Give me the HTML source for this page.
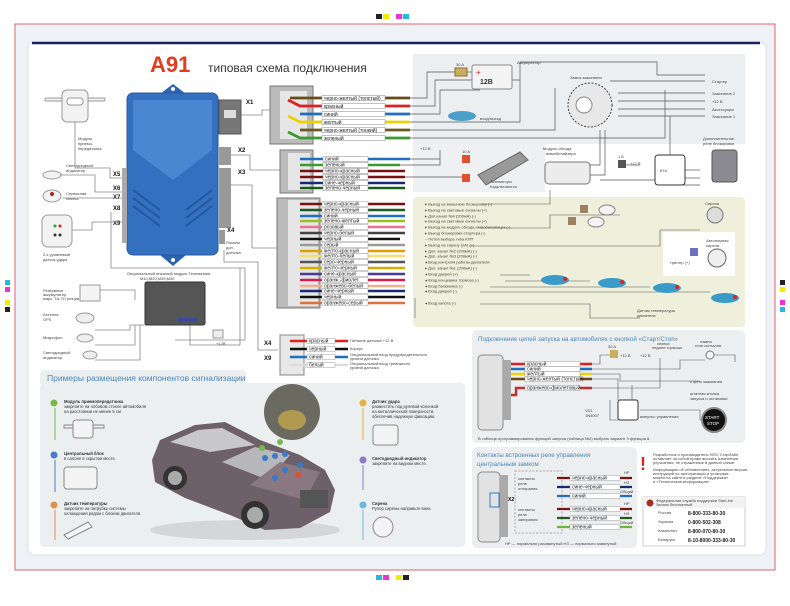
<!DOCTYPE html>
<html><head><meta charset="utf-8"><style>
html,body{margin:0;padding:0;background:#fff;}
svg{display:block;font-family:"Liberation Sans","Noto Sans CJK SC",sans-serif;}
.t{font-size:5px;fill:#333;}
.s{font-size:4px;fill:#444;}
.lb{font-size:5px;fill:#222;}
</style></head><body>
<svg width="790" height="606" viewBox="0 0 790 606" xmlns="http://www.w3.org/2000/svg">
<rect width="790" height="606" fill="#fff"/>
<rect x="15" y="24" width="760" height="546" fill="#eef1f6" stroke="#d66" stroke-width="1"/>
<g font-size="5">
<rect x="376" y="14" width="6" height="5" fill="#222"/><rect x="383" y="14" width="6" height="5" fill="#ee0"/><rect x="396" y="14" width="6" height="5" fill="#e3c"/><rect x="403" y="14" width="6" height="5" fill="#2bd"/>
<rect x="376" y="575" width="6" height="5" fill="#2bd"/><rect x="383" y="575" width="6" height="5" fill="#e3c"/><rect x="396" y="575" width="6" height="5" fill="#ee0"/><rect x="403" y="575" width="6" height="5" fill="#222"/>
<rect x="5" y="280" width="5" height="5" fill="#2bd"/><rect x="5" y="287" width="5" height="5" fill="#e3c"/><rect x="5" y="300" width="5" height="5" fill="#ee0"/><rect x="5" y="307" width="5" height="5" fill="#222"/>
<rect x="780" y="280" width="5" height="5" fill="#222"/><rect x="780" y="287" width="5" height="5" fill="#ee0"/><rect x="780" y="300" width="5" height="5" fill="#e3c"/><rect x="780" y="307" width="5" height="5" fill="#2bd"/>
</g>
<rect x="28" y="42" width="738" height="513" rx="6" fill="#fff" stroke="#dde" stroke-width="1"/>
<path d="M32 43 H760" stroke="#1c2060" stroke-width="2.5"/>
<text x="150" y="72" font-size="22" font-weight="bold" fill="#e23c1c">A91</text>
<text x="208" y="72" font-size="12" fill="#333">типовая схема подключения</text>

<rect x="413" y="54" width="332" height="90" fill="#eceef0"/>
<rect x="413" y="144" width="132" height="48" fill="#eef0f2"/>
<rect x="413" y="197" width="332" height="130" rx="4" fill="#eef0dc"/>
<rect x="663" y="232" width="72" height="44" fill="#fff"/>

<path d="M160 94 L173 84 L186 94 Z" fill="#2a63b0"/>
<path d="M160 255 L173 266 L186 255 Z" fill="#2a63b0"/>
<rect x="127" y="93" width="91" height="162" rx="6" fill="#3470c0" stroke="#2a5aa0"/>
<path d="M133 100 H212 V150 L173 180 L133 150 Z" fill="#4a86d2"/>
<g stroke="#2556a0" stroke-width="2" fill="none">
<path d="M133 190 L160 210"/><path d="M133 198 L160 218"/><path d="M133 206 L160 226"/>
<path d="M212 190 L186 210"/><path d="M212 198 L186 218"/><path d="M212 206 L186 226"/>
</g>
<circle cx="173" cy="89" r="2" fill="#fff"/><circle cx="173" cy="260" r="2" fill="#fff"/>
<rect x="219" y="100" width="22" height="34" fill="#777" stroke="#555"/>
<rect x="224" y="110" width="12" height="8" fill="#ddd"/>
<rect x="219" y="147" width="12" height="18" fill="#999"/>
<rect x="219" y="168" width="12" height="60" fill="#999"/>
<rect x="219" y="230" width="6" height="14" fill="#999"/>
<rect x="122" y="168" width="5" height="75" fill="#aaa"/>
<g font-size="6" font-weight="bold" fill="#111">
<text x="246" y="104">X1</text><text x="238" y="152">X2</text><text x="238" y="174">X3</text><text x="227" y="232">X4</text>
<text x="113" y="176">X5</text><text x="113" y="190">X6</text><text x="113" y="199">X7</text><text x="113" y="210">X8</text><text x="113" y="225">X9</text>
<text x="264" y="345">X4</text><text x="264" y="360">X9</text>
</g>
<text x="226" y="244" class="s">Разъем</text><text x="226" y="249" class="s">доп.</text><text x="226" y="254" class="s">датчика</text>

<g fill="#f2f2f2" stroke="#999">
<rect x="45" y="98" width="60" height="3" rx="1"/>
<rect x="62" y="90" width="26" height="32" rx="5"/>
<rect x="67" y="98" width="16" height="7" rx="3" fill="#fff"/>
<ellipse cx="52" cy="175" rx="9" ry="4"/>
<ellipse cx="52" cy="196" rx="9" ry="6"/>
<rect x="42" y="215" width="30" height="32" rx="6"/>
</g>
<circle cx="52" cy="194" r="2" fill="#a22"/>
<circle cx="55" cy="226" r="1.5" fill="#2a2"/><circle cx="60" cy="226" r="1.5" fill="#c22"/>
<circle cx="55" cy="235" r="1.5" fill="#333"/><circle cx="60" cy="235" r="1.5" fill="#333"/>
<g class="s">
<text x="78" y="140">Модуль</text><text x="78" y="145">приемо-</text><text x="78" y="150">передатчика</text>
<text x="66" y="167">Светодиодный</text><text x="66" y="172">индикатор</text>
<text x="66" y="195">Сервисная</text><text x="66" y="200">кнопка</text>
<text x="43" y="256">2-х уровневый</text><text x="43" y="261">датчик удара</text>
<text x="127" y="275">Опциональный внешний модуль Телематики</text><text x="140" y="280">M10,M20,M30,M30</text>
<text x="43" y="292">Резервные</text><text x="43" y="296">аккумулятор</text><text x="43" y="300">марк. ТА-7Н (опции)</text>
<text x="43" y="316">Антенна</text><text x="43" y="321">GPS</text>
<text x="43" y="339">Микрофон</text>
<text x="43" y="354">Светодиодный</text><text x="43" y="359">индикатор</text>
</g>
<g stroke="#888" fill="none" stroke-width="0.8">
<path d="M75 122 V168 H110 V178 H122"/>
<path d="M60 175 H95 V192 H122"/>
<path d="M62 198 H122"/>
<path d="M72 230 H92 V222 H122"/>
<path d="M111 212 V268 H245 V340 H175"/>
<path d="M241 115 H262 V110 H270"/>
<path d="M231 155 H250 V170 H280"/>
<path d="M231 185 H252 V248 H278"/>
<path d="M224 250 V262 H258 V350 H278"/>
<path d="M95 330 H130 V325 H160"/><path d="M95 345 H135 V325"/><path d="M95 360 H140 V325"/><path d="M88 290 H135 V300"/>
<path d="M190 325 V345 H240 V268"/>
</g>
<rect x="80" y="285" width="20" height="16" fill="#f4f4f4" stroke="#999"/>
<rect x="145" y="282" width="60" height="43" rx="2" fill="#555" stroke="#333"/>
<rect x="178" y="318" width="20" height="4" fill="#3a4aa0"/>
<ellipse cx="85" cy="318" rx="9" ry="5" fill="#eee" stroke="#999"/>
<ellipse cx="85" cy="338" rx="8" ry="4" fill="#eee" stroke="#999"/>
<ellipse cx="90" cy="355" rx="7" ry="4" fill="#eee" stroke="#999"/>
<rect x="213" y="330" width="10" height="8" fill="#eee" stroke="#999"/>
<text x="216" y="345" class="s">+12В</text>

<rect x="270" y="86" width="43" height="58" fill="#bbb" stroke="#777"/>
<rect x="280" y="91" width="27" height="48" fill="#e6e6e6"/>
<g stroke-width="2.8" fill="none">
<path d="M290 98 H322 M385 98 H410" stroke="#6b4a1a"/>
<path d="M288 100 L300 106 H322 M385 106 H410" stroke="#e02020"/>
<path d="M300 114 H322 M385 114 H410" stroke="#1f6fc0"/>
<path d="M288 116 L300 122 H322 M385 122 H410" stroke="#f0d000"/>
<path d="M300 130 H322 M385 130 H410" stroke="#6b5a20"/>
<path d="M288 132 L300 138 H322 M385 138 H410" stroke="#3a9a30"/>
</g>
<g fill="#fff" stroke="#888" stroke-width="0.5">
<rect x="322" y="95.5" width="63" height="5"/><rect x="322" y="103.5" width="63" height="5"/><rect x="322" y="111.5" width="63" height="5"/><rect x="322" y="119.5" width="63" height="5"/><rect x="322" y="127.5" width="63" height="5"/><rect x="322" y="135.5" width="63" height="5"/>
</g>
<g class="lb" font-size="4.5">
<text x="324" y="99.8">черно-желтый (толстый)</text><text x="324" y="107.8">красный</text><text x="324" y="115.8">синий</text><text x="324" y="123.8">желтый</text><text x="324" y="131.8">черно-желтый (тонкий)</text><text x="324" y="139.8">зеленый</text>
</g>

<rect x="280" y="150" width="33" height="43" fill="#bbb" stroke="#777"/>
<rect x="288" y="153" width="22" height="37" fill="#e6e6e6"/>
<g stroke-width="2.5" fill="none">
<path d="M300 159 H323 M368 159 H410" stroke="#1f6fc0"/>
<path d="M300 165 H323 M368 165 H400" stroke="#3a9a30"/>
<path d="M300 171 H323 M368 171 H405" stroke="#7a1010"/>
<path d="M300 177 H323 M368 177 H405" stroke="#7a1010"/>
<path d="M300 183 H323 M368 183 H405" stroke="#1a2a70"/>
<path d="M300 188 H323 M368 188 H405" stroke="#1d5a20"/>
</g>
<g fill="#fff" stroke="#888" stroke-width="0.5">
<rect x="323" y="156.5" width="45" height="5"/><rect x="323" y="162.5" width="45" height="5"/><rect x="323" y="168.5" width="45" height="5"/><rect x="323" y="174.5" width="45" height="5"/><rect x="323" y="180.5" width="45" height="5"/><rect x="323" y="185.5" width="45" height="5"/>
</g>
<g class="lb" font-size="4.5">
<text x="325" y="160.6">синий</text><text x="325" y="166.6">зеленый</text><text x="325" y="172.6">черно-красный</text><text x="325" y="178.6">черно-красный</text><text x="325" y="184.6">сине-черный</text><text x="325" y="189.6">зелено-черный</text>
</g>

<rect x="277" y="198" width="43" height="110" fill="#bbb" stroke="#777"/>
<rect x="288" y="200" width="30" height="106" fill="#e6e6e6"/>
<g stroke-width="2.4" fill="none">
<path d="M300 204 H322 M368 204 H405" stroke="#7a1010"/>
<path d="M300 210 H322 M368 210 H405" stroke="#1d5a20"/>
<path d="M300 216 H322 M368 216 H405" stroke="#1f6fc0"/>
<path d="M300 221 H322 M368 221 H405" stroke="#9ac020"/>
<path d="M300 227 H322 M368 227 H405" stroke="#e8709a"/>
<path d="M300 233 H322 M368 233 H405" stroke="#444"/>
<path d="M300 239 H322 M368 239 H400" stroke="#111"/>
<path d="M300 245 H322 M368 245 H405" stroke="#999"/>
<path d="M300 251 H322 M368 251 H405" stroke="#e0a000"/>
<path d="M300 256 H322 M368 256 H405" stroke="#f4e070"/>
<path d="M300 262 H322 M368 262 H405" stroke="#555"/>
<path d="M300 268 H322 M368 268 H405" stroke="#d0b000"/>
<path d="M300 274 H322 M368 274 H405" stroke="#4a3a9a"/>
<path d="M300 280 H322 M368 280 H405" stroke="#d02050"/>
<path d="M300 286 H322 M368 286 H405" stroke="#f0b090"/>
<path d="M300 291 H322 M368 291 H405" stroke="#1a2a70"/>
<path d="M300 297 H322 M368 297 H405" stroke="#111"/>
<path d="M300 303 H322 M368 303 H405" stroke="#e07040"/>
</g>
<g fill="#fff" stroke="#888" stroke-width="0.4">
<rect x="322" y="201.6" width="46" height="5"/><rect x="322" y="207.6" width="46" height="5"/><rect x="322" y="213.6" width="46" height="5"/><rect x="322" y="218.6" width="46" height="5"/><rect x="322" y="224.6" width="46" height="5"/><rect x="322" y="230.6" width="46" height="5"/><rect x="322" y="236.6" width="46" height="5"/><rect x="322" y="242.6" width="46" height="5"/><rect x="322" y="248.6" width="46" height="5"/><rect x="322" y="253.6" width="46" height="5"/><rect x="322" y="259.6" width="46" height="5"/><rect x="322" y="265.6" width="46" height="5"/><rect x="322" y="271.6" width="46" height="5"/><rect x="322" y="277.6" width="46" height="5"/><rect x="322" y="283.6" width="46" height="5"/><rect x="322" y="288.6" width="46" height="5"/><rect x="322" y="294.6" width="46" height="5"/><rect x="322" y="300.6" width="46" height="5"/>
</g>
<g class="lb" font-size="4.2">
<text x="324" y="205.6">черно-красный</text><text x="324" y="211.6">зелено-черный</text><text x="324" y="217.6">синий</text><text x="324" y="222.6">зелено-желтый</text><text x="324" y="228.6">розовый</text><text x="324" y="234.6">черно-белый</text><text x="324" y="240.6">черный</text><text x="324" y="246.6">серый</text><text x="324" y="252.6">желто-красный</text><text x="324" y="257.6">желто-белый</text><text x="324" y="263.6">серо-черный</text><text x="324" y="269.6">желто-черный</text><text x="324" y="275.6">сине-красный</text><text x="324" y="281.6">оранж.-фиолет.</text><text x="324" y="287.6">оранжево-белый</text><text x="324" y="292.6">сине-черный</text><text x="324" y="298.6">черный</text><text x="324" y="304.6">оранжево-серый</text>
</g>
<g class="s" font-size="3.8">
<text x="425" y="205.5">▸ Выход на внешнюю блокировку (-)</text>
<text x="425" y="211.5">▸ Выход на световые сигналы (+)</text>
<text x="425" y="217.5">▸ Доп.канал №4 (200мА) (-)</text>
<text x="425" y="222.5">▸ Выход на световые сигналы (+)</text>
<text x="425" y="228.5">▸ Выход на модуль обхода иммобилайзера (-)</text>
<text x="425" y="234.5">▸ Выход блокировки стартера (-)</text>
<text x="425" y="240.5">– Петля выбора типа КПП</text>
<text x="425" y="246.5">▸ Выход на сирену (2А) (+)</text>
<text x="425" y="252.5">▸ Доп. канал №2 (200мА) (-)</text>
<text x="425" y="257.5">▸ Доп. канал №3 (200мА) (-)</text>
<text x="425" y="263.5">◂ Вход контроля работы двигателя</text>
<text x="425" y="269.5">▸ Доп. канал №1 (200мА) (-)</text>
<text x="425" y="275.5">◂ Вход дверей (+)</text>
<text x="425" y="281.5">◂ Вход концевика тормоза (-)</text>
<text x="425" y="287.5">◂ Вход багажника (-)</text>
<text x="425" y="292.5">◂ Вход дверей (-)</text>
<text x="425" y="304.5">◂ Вход капота (-)</text>
</g>
<g stroke="#555" stroke-width="0.6" fill="none">
<path d="M482 204 H550 V190"/><path d="M480 228 H550 V215 H620"/><path d="M470 246 H660 V230 H700"/>
<path d="M500 275 H530"/><path d="M505 281 H590"/><path d="M490 287 H650"/><path d="M480 292 H710"/>
<path d="M480 304 H590 V318 H640"/><path d="M415 298 V318"/>
</g>

<g stroke="#555" stroke-width="0.7" fill="none">
<path d="M410 98 H427 V72 H455"/><path d="M467 72 H478"/>
<path d="M410 106 H435 V80 H520"/>
<path d="M410 114 H440 V90 H480"/>
<path d="M410 122 H520 V62 H657 V75 H705"/>
<path d="M410 130 H555 V88"/><path d="M410 138 H665 V90"/>
<path d="M610 81 H705"/><path d="M618 93 H705"/><path d="M618 101 H705"/><path d="M618 109 H705"/><path d="M618 116 H705"/>
<path d="M400 165 H440 V150"/><path d="M410 159 H440"/><path d="M405 177 H470"/>
<path d="M590 165 H600 V130"/><path d="M590 175 H605 V130"/>
<path d="M670 116 V157"/><path d="M685 170 H700"/><path d="M685 178 H700"/><path d="M675 185 H700"/>
<path d="M600 180 H655"/><path d="M625 165 H640"/>
</g>
<rect x="455" y="68" width="12" height="8" fill="#c8b060" stroke="#8a7030"/>
<text x="456" y="66" class="s">30 A</text>
<rect x="472" y="65" width="40" height="24" rx="2" fill="#f4f4f4" stroke="#888"/>
<text x="480" y="84" font-size="7" font-weight="bold" fill="#333">12В</text>
<text x="476" y="75" font-size="8" fill="#d22">+</text>
<text x="517" y="64" class="s">Аккумулятор</text>
<circle cx="590" cy="105" r="22" fill="#e8e8e8" stroke="#444" stroke-dasharray="2 1.5"/>
<circle cx="584" cy="105" r="8" fill="#fff" stroke="#888"/>
<text x="570" y="79" class="s">Замок зажигания</text>
<g class="s">
<text x="712" y="83">Стартер</text><text x="712" y="95">Зажигание 2</text><text x="712" y="103">+12 В</text><text x="712" y="111">Аксессуары</text><text x="712" y="118">Зажигание 1</text>
</g>
<ellipse cx="462" cy="116" rx="14" ry="5" fill="#4aa0c8"/>
<text x="480" y="120" class="s">вход/выход</text>
<rect x="462" y="155" width="8" height="8" fill="#e05030"/><rect x="462" y="174" width="8" height="8" fill="#e05030"/>
<text x="462" y="153" class="s">10 A</text>
<path d="M478 175 L520 152 L528 160 L486 185 Z" fill="#999" stroke="#666"/>
<text x="490" y="183" class="s">Активаторы</text><text x="490" y="188" class="s">подключаются</text>
<text x="420" y="150" class="s">+12 В</text>
<rect x="545" y="162" width="45" height="22" rx="4" fill="#ececec" stroke="#777"/>
<text x="543" y="150" class="s">Модуль обхода</text><text x="546" y="155" class="s">иммобилайзера</text>
<rect x="618" y="160" width="8" height="8" fill="#555"/><text x="618" y="158" class="s">1 A</text>
<text x="630" y="165" class="s">+12 В</text>
<rect x="655" y="155" width="30" height="30" rx="3" fill="#fff" stroke="#333"/>
<text x="660" y="172" class="s">87a</text>
<rect x="712" y="150" width="25" height="32" rx="3" fill="#8a8a90" stroke="#555"/>
<text x="703" y="140" class="s">Дополнительное</text><text x="703" y="145" class="s">реле блокировки</text>
<ellipse cx="607" cy="210" rx="8" ry="5" fill="#f4f4f4" stroke="#888"/>
<ellipse cx="596" cy="222" rx="8" ry="5" fill="#f4f4f4" stroke="#888"/>
<rect x="580" y="205" width="8" height="8" fill="#a08060"/><rect x="568" y="217" width="8" height="8" fill="#a08060"/>
<circle cx="715" cy="215" r="8" fill="#ddd" stroke="#777"/>
<text x="705" y="205" class="s">Сирена</text>
<circle cx="717" cy="258" r="9" fill="#eee" stroke="#666"/>
<rect x="690" y="248" width="8" height="8" fill="#7070c0"/>
<text x="706" y="242" class="s">Автономная</text><text x="706" y="247" class="s">сирена</text>
<text x="670" y="264" class="s">триггер (+)</text>
<g fill="#3a9ac8"><ellipse cx="555" cy="280" rx="14" ry="5"/><ellipse cx="612" cy="283" rx="14" ry="5"/><ellipse cx="667" cy="288" rx="14" ry="5"/><ellipse cx="725" cy="298" rx="14" ry="5"/></g>
<g fill="#d22"><circle cx="565" cy="279" r="2"/><circle cx="622" cy="282" r="2"/><circle cx="677" cy="287" r="2"/><circle cx="735" cy="297" r="2"/></g>
<text x="637" y="312" class="s">Датчик температуры</text><text x="637" y="317" class="s">двигателя</text>

<rect x="280" y="335" width="24" height="40" fill="#e8e8e8" stroke="#888"/>
<g stroke-width="2.4" fill="none">
<path d="M290 341 H307 M335 341 H348" stroke="#e02020"/>
<path d="M290 349 H307 M335 349 H348" stroke="#111"/>
<path d="M290 357 H307 M335 357 H348" stroke="#1f6fc0"/>
<path d="M290 365 H307 M335 365 H348" stroke="#ddd"/>
</g>
<g fill="#fff" stroke="#888" stroke-width="0.4"><rect x="307" y="338.5" width="28" height="5"/><rect x="307" y="346.5" width="28" height="5"/><rect x="307" y="354.5" width="28" height="5"/><rect x="307" y="362.5" width="28" height="5"/></g>
<g class="lb" font-size="4.5"><text x="309" y="342.5">красный</text><text x="309" y="350.5">черный</text><text x="309" y="358.5">синий</text><text x="309" y="366.5">белый</text></g>
<g class="s" font-size="3.8"><text x="350" y="342">Питание датчика +12 В</text><text x="350" y="350">Корпус</text><text x="350" y="356">Опциональный вход предупредительного</text><text x="350" y="360">уровня датчика</text><text x="350" y="365">Опциональный вход тревожного</text><text x="350" y="369">уровня датчика</text></g>

<rect x="40" y="370" width="206" height="16" rx="4" fill="#eceff0"/>
<rect x="40" y="383" width="425" height="164" rx="4" fill="#eceff0"/>
<text x="47" y="381" font-size="8.5" fill="#4a86b8">Примеры размещения компонентов сигнализации</text>
<g font-size="4.2" fill="#333">
<circle cx="54" cy="403" r="3.5" fill="#7ab84a"/><path d="M55 408 V440" stroke="#7ab84a"/>
<text x="64" y="403" font-weight="bold">Модуль приемопередатчика</text><text x="64" y="408">закрепите на лобовом стекле автомобиля</text><text x="64" y="413">на расстоянии не менее 5 см</text>
<rect x="64" y="425" width="40" height="3" fill="#eee" stroke="#888"/><rect x="73" y="420" width="20" height="18" rx="3" fill="#f4f4f4" stroke="#888"/>
<circle cx="54" cy="455" r="3.5" fill="#4a7ac8"/><path d="M55 460 V492" stroke="#4a7ac8"/>
<text x="64" y="455" font-weight="bold">Центральный блок</text><text x="64" y="460">в салоне в скрытом месте.</text>
<rect x="64" y="467" width="33" height="22" rx="3" fill="#f4f4f4" stroke="#888"/>
<circle cx="54" cy="505" r="3.5" fill="#e0904a"/><path d="M55 510 V540" stroke="#e0904a"/>
<text x="64" y="505" font-weight="bold">Датчик температуры</text><text x="64" y="510">закрепите на патрубке системы</text><text x="64" y="515">охлаждения рядом с блоком двигателя.</text>
<path d="M64 535 L88 522 L92 527 L68 539 Z" fill="#f4f4f4" stroke="#888"/>
<circle cx="363" cy="403" r="3.5" fill="#e8b040"/><path d="M363 408 V440" stroke="#e8b040"/>
<text x="372" y="403" font-weight="bold">Датчик удара</text><text x="372" y="408">разместить под рулевой колонкой</text><text x="372" y="413">на металлической поверхности,</text><text x="372" y="418">обеспечив надежную фиксацию.</text>
<rect x="373" y="425" width="25" height="20" rx="3" fill="#f4f4f4" stroke="#888"/>
<circle cx="363" cy="460" r="3.5" fill="#8a7ac8"/><path d="M363 465 V490" stroke="#8a7ac8"/>
<text x="372" y="460" font-weight="bold">Светодиодный индикатор</text><text x="372" y="465">закрепите на видном месте.</text>
<circle cx="363" cy="505" r="3.5" fill="#6ab8e0"/><path d="M363 510 V540" stroke="#6ab8e0"/>
<text x="372" y="505" font-weight="bold">Сирена</text><text x="372" y="510">Рупор сирены направьте вниз.</text>
<circle cx="383" cy="527" r="10" fill="#f4f4f4" stroke="#888"/>
</g>
<circle cx="292" cy="412" r="28" fill="#6a6a60"/>
<ellipse cx="292" cy="420" rx="14" ry="10" fill="#b09a50"/>
<ellipse cx="245" cy="530" rx="95" ry="10" fill="#d4d6d8"/>
<path d="M152 460 L160 440 L195 425 L225 422 L260 440 L300 455 L325 470 L335 490 L330 512 L300 528 L265 530 L230 515 L185 498 L155 482 Z" fill="#6e6068"/>
<path d="M170 442 L198 430 L222 428 L255 445 L210 452 Z" fill="#c8c8cc"/>
<path d="M255 447 L290 455 L268 480 L222 462 Z" fill="#b8b8bc"/>
<path d="M250 485 L280 462 L320 472 L305 500 Z" fill="#8a7880"/>
<circle cx="175" cy="478" r="12" fill="#333"/><circle cx="175" cy="478" r="7" fill="#aaa"/>
<circle cx="255" cy="515" r="14" fill="#333"/><circle cx="255" cy="515" r="8" fill="#aaa"/>
<rect x="300" y="490" width="28" height="18" fill="#555"/>
<g fill="#3a7ac8"><circle cx="265" cy="458" r="3"/><circle cx="275" cy="456" r="3"/><circle cx="285" cy="454" r="3"/><circle cx="285" cy="470" r="3"/><circle cx="300" cy="465" r="3"/><circle cx="275" cy="478" r="3"/></g>
<circle cx="298" cy="475" r="3" fill="#e05030"/>
<g fill="#7ab84a"><circle cx="262" cy="448" r="3"/><circle cx="280" cy="442" r="3"/></g>

<rect x="472" y="330" width="273" height="113" rx="5" fill="#eceef0"/>
<text x="478" y="341" font-size="6.2" fill="#4a86b8">Подключение цепей запуска на автомобилях с кнопкой «Старт/Стоп»</text>
<rect x="478" y="355" width="25" height="75" rx="4" fill="#e2e2e2" stroke="#888"/>
<rect x="503" y="360" width="8" height="60" fill="#aaa"/>
<g stroke-width="2.4" fill="none">
<path d="M511 364 H525 M580 364 H592" stroke="#e02020"/>
<path d="M511 369 H525 M580 369 H592" stroke="#1f6fc0"/>
<path d="M511 374 H525 M580 374 H592" stroke="#f0d000"/>
<path d="M511 379 H525 M580 379 H592" stroke="#6b4a1a"/>
<path d="M511 395 H516 V388 H525 M580 388 H592" stroke="#c03030"/>
</g>
<g fill="#fff" stroke="#888" stroke-width="0.4"><rect x="525" y="361.5" width="55" height="5"/><rect x="525" y="366.5" width="55" height="5"/><rect x="525" y="371.5" width="55" height="5"/><rect x="525" y="376.5" width="55" height="5"/><rect x="525" y="385.5" width="55" height="5"/></g>
<g class="lb" font-size="4.2"><text x="527" y="365.5">красный</text><text x="527" y="370.5">синий</text><text x="527" y="375.5">желтый</text><text x="527" y="380.5">черно-желтый (толстый)</text><text x="527" y="389.5">оранжево-фиолетовый</text></g>
<g stroke="#555" stroke-width="0.6" fill="none">
<path d="M592 364 H600 V355 H610"/><path d="M592 369 H680 V360 H705"/><path d="M592 374 H620 V381 H700"/><path d="M592 379 H618 V400"/><path d="M592 388 H660 V358"/><path d="M632 385 V420 H610 V400"/><path d="M640 410 H700 V420 H710"/><path d="M710 355 H735 V362"/>
</g>
<rect x="610" y="350" width="8" height="8" fill="#c8b060"/>
<text x="608" y="348" class="s">30 A</text><text x="620" y="357" class="s">+12 В</text>
<text x="640" y="357" class="s">+12 В</text>
<text x="657" y="345" class="s">кнопка</text><text x="652" y="349" class="s">педали тормоза</text>
<text x="700" y="343" class="s">лампа</text><text x="695" y="347" class="s">стоп сигналов</text>
<circle cx="710" cy="355" r="4" fill="#f4f4f4" stroke="#777"/>
<text x="690" y="383" class="s">к цепи зажигания</text>
<rect x="618" y="400" width="20" height="20" rx="2" fill="#fff" stroke="#333"/>
<text x="585" y="412" class="s">VD1</text><text x="585" y="417" class="s">1N4007</text>
<text x="640" y="418" class="s">импульс управления</text>
<text x="690" y="395" class="s">штатная кнопка</text><text x="690" y="400" class="s">запуска и остановки</text>
<circle cx="714" cy="420" r="12" fill="#111" stroke="#888" stroke-width="2"/>
<text x="705" y="419" font-size="4.5" fill="#fff">START</text><text x="707" y="425" font-size="4.5" fill="#fff">STOP</text>
<text x="478" y="440" class="s">В таблице программирования функций запуска (таблица №2) выбрать вариант 3 функции 8.</text>

<rect x="472" y="447" width="165" height="101" rx="5" fill="#eceef0"/>
<text x="477" y="457" font-size="6.2" fill="#4a86b8">Контакты встроенных реле управления</text>
<text x="477" y="466" font-size="6.2" fill="#4a86b8">центральным замком</text>
<rect x="478" y="472" width="22" height="70" rx="4" fill="#e2e2e2" stroke="#888"/>
<rect x="500" y="475" width="8" height="62" fill="#aaa"/>
<rect x="490" y="493" width="9" height="14" fill="none" stroke="#3a7ac8"/>
<text x="508" y="501" font-size="5" font-weight="bold">X2</text>
<rect x="515" y="471" width="47" height="62" fill="none" stroke="#aaa" stroke-dasharray="2 1.5"/>
<g class="s" font-size="3.8"><text x="518" y="480">контакты</text><text x="518" y="485">реле</text><text x="518" y="490">отпирания</text><text x="518" y="511">контакты</text><text x="518" y="516">реле</text><text x="518" y="521">запирания</text></g>
<g stroke-width="2.3" fill="none">
<path d="M557 478 H570 M620 478 H632" stroke="#7a1010"/>
<path d="M557 487 H570 M620 487 H632" stroke="#1a2a70"/>
<path d="M557 496 H570 M620 496 H632" stroke="#1f6fc0"/>
<path d="M557 509 H570 M620 509 H632" stroke="#7a1010"/>
<path d="M557 518 H570 M620 518 H632" stroke="#1d5a20"/>
<path d="M557 527 H570 M620 527 H632" stroke="#6ab83a"/>
</g>
<g fill="#fff" stroke="#888" stroke-width="0.4"><rect x="570" y="475.5" width="50" height="5"/><rect x="570" y="484.5" width="50" height="5"/><rect x="570" y="493.5" width="50" height="5"/><rect x="570" y="506.5" width="50" height="5"/><rect x="570" y="515.5" width="50" height="5"/><rect x="570" y="524.5" width="50" height="5"/></g>
<g class="lb" font-size="4.2"><text x="572" y="479.5">черно-красный</text><text x="572" y="488.5">сине-черный</text><text x="572" y="497.5">синий</text><text x="572" y="510.5">черно-красный</text><text x="572" y="519.5">зелено-черный</text><text x="572" y="528.5">зеленый</text></g>
<g class="s" font-size="3.8"><text x="624" y="474">НР</text><text x="624" y="484">НЗ</text><text x="620" y="493">Общий</text><text x="624" y="505">НР</text><text x="624" y="515">НЗ</text><text x="620" y="524">Общий</text></g>
<text x="505" y="545" class="s">НР — нормально разомкнутый    НЗ — нормально замкнутый</text>

<text x="640" y="470" font-size="18" font-weight="bold" fill="#d22">!</text>
<g class="s" font-size="3.6"><text x="653" y="456">Разработчик и производитель НПО СтарЛайн</text><text x="653" y="460">оставляет за собой право вносить изменения</text><text x="653" y="464">улучшения, не отраженные в данной схеме.</text><text x="653" y="471">Информацию об обновлениях, актуальные версии</text><text x="653" y="475">инструкций по эксплуатации и установке</text><text x="653" y="479">можно на сайте в разделе «Поддержка»</text><text x="653" y="483">и «Техническая информация».</text></g>
<rect x="643" y="497" width="102" height="49" fill="#fff" stroke="#ccc"/>
<rect x="643" y="497" width="102" height="11" fill="#f2f2f2"/>
<circle cx="650" cy="503" r="3.5" fill="#a03020"/>
<g class="s" font-size="3.6"><text x="656" y="502">Федеральная служба поддержки StarLine</text><text x="656" y="506">Звонок бесплатный</text>
<text x="658" y="514">Россия</text><text x="658" y="523">Украина</text><text x="658" y="532">Казахстан</text><text x="658" y="541">Беларусь</text></g>
<g font-size="5" font-weight="bold" fill="#222"><text x="688" y="515">8-800-333-80-30</text><text x="688" y="524">0-800-502-308</text><text x="688" y="533">8-800-070-80-30</text><text x="688" y="542">8-10-8000-333-80-30</text></g>
</svg>
</body></html>
